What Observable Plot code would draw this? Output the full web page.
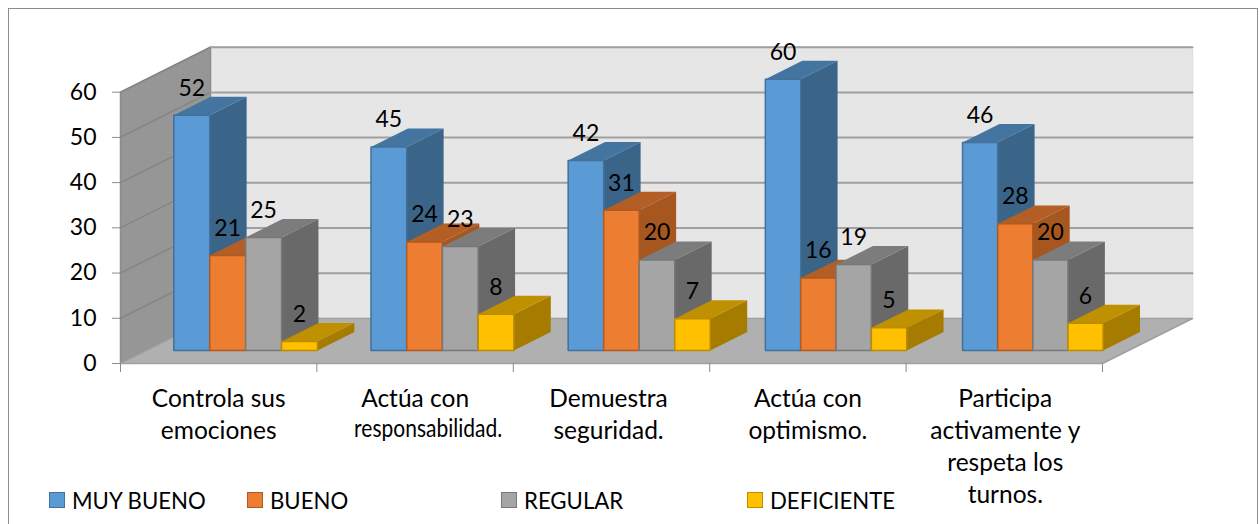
<!DOCTYPE html>
<html><head><meta charset="utf-8">
<script src="https://cdn.jsdelivr.net/npm/d3@7"></script>
<script src="https://cdn.jsdelivr.net/npm/@observablehq/plot@0.6"></script>
<style>
html,body{margin:0;padding:0;background:#fff;overflow:hidden}
#frame{position:absolute;left:8px;top:8px;width:1250px;height:530px;box-sizing:border-box;border:1.5px solid #8c8c8c;pointer-events:none}
#chart{position:absolute;left:0;top:0}
#legend{position:absolute;left:0;top:484px;height:32px;font:22.2px Lato,sans-serif;color:#000}
#legend span.item{position:absolute;top:0;white-space:nowrap;display:flex;align-items:center;height:32px}
#legend i{display:inline-block;box-sizing:border-box;width:16px;height:16px;margin-right:7px;border:1px solid}
</style></head><body>
<div id="chart"></div><div id="frame"></div><div id="legend"></div>
<script>
const categories = ["Controla sus\nemociones","Actúa con","Demuestra\nseguridad.","Actúa con\noptimismo.","Participa\nactivamente y\nrespeta los\nturnos."];
const narrowLine = "responsabilidad.";
const seriesNames = ["MUY BUENO","BUENO","REGULAR","DEFICIENTE"];
const muyBueno = [52,45,42,60,46];
const bueno = [21,24,31,16,28];
const regular = [25,23,20,19,20];
const deficiente = [2,8,7,5,6];
const yTicks = [0,10,20,30,40,50,60];
const front = ["#5b9bd5","#ed7d31","#a5a5a5","#ffc000"];
const edge = ["#41719c","#ae5a21","#787878","#bc8c00"];
const topFace = ["#4475a1","#b25e25","#7c7c7c","#bf9000"];
const sideFace = ["#3a6488","#a5571f","#696969","#a57c00"];
const series = [muyBueno,bueno,regular,deficiente];
const catX = [0.5,1.5,2.485,3.5,4.505];

const DX = 90/196.4, DY = 45/4.52;
const P = (x,v,d)=>({x:x+d*DX,y:v+d*DY});
const polys = [];
const poly = (id,pts,fill,stroke)=>pts.forEach(p=>polys.push({id,...p,fill,stroke}));
poly("back",[P(0,0,1),P(5,0,1),P(5,60,1),P(0,60,1)],"#e6e6e6","#e0e0e0");
poly("wall",[P(0,0,0),P(0,0,1),P(0,60,1),P(0,60,0)],"#969696","#8c8c8c");
poly("floor",[P(0,0,0),P(5,0,0),P(5,0,1),P(0,0,1)],"#b0b0b0","#a0a0a0");

const bars = [];
const D0 = 0.29, D1 = 0.70;
categories.forEach((c,i)=>series.forEach((vals,s)=>{
  const start = 0.2714+0.004*i - D0*DX, end = 1.003 - D0*DX, BW = (end-start)/4;
  const v = vals[i], x0 = i+start+s*BW, x1 = x0+BW, id=`b${i}-${s}`;
  bars.push({x:x0+BW/2+D0*DX,y:v+D0*DY,label:String(v)});
  poly(id+"side",[P(x1,0,D0),P(x1,0,D1),P(x1,v,D1),P(x1,v,D0)],sideFace[s],"#0000");
  poly(id+"top",[P(x0,v,D0),P(x1,v,D0),P(x1,v,D1),P(x0,v,D1)],topFace[s],"#0000");
  poly(id+"front",[P(x0,0,D0),P(x1,0,D0),P(x1,v,D0),P(x0,v,D0)],front[s],edge[s]);
}));
const bgN = 12;
const bg = polys.slice(0,bgN), barPolys = polys.slice(bgN);
const grid = yTicks.filter(v=>v>0).flatMap(v=>[P(0,v,1),P(5,v,1)].map(p=>({...p,v})));
const wallGrid = yTicks.filter(v=>v>0).flatMap(v=>[P(0,v,0),P(0,v,1)].map(p=>({...p,v})));
const catRows = categories.map((c,i)=>({x:catX[i],c}));

const chart = Plot.plot({
  width:1259,height:524,marginLeft:120,marginRight:157,marginTop:91.7,marginBottom:161,
  x:{domain:[0,5],axis:null},
  y:{domain:[0,60],axis:null},
  style:{fontFamily:"Lato, sans-serif",background:"transparent"},
  marks:[
    Plot.line(bg,{x:"x",y:"y",z:"id",fill:"fill",stroke:"stroke",strokeWidth:1.5,curve:"linear-closed"}),
    Plot.line(wallGrid,{x:"x",y:"y",z:"v",stroke:"#858585",strokeWidth:1.5}),
    Plot.line(grid,{x:"x",y:"y",z:"v",stroke:"#a0a0a0",strokeWidth:2}),
    Plot.line(barPolys,{x:"x",y:"y",z:"id",fill:"fill",stroke:"stroke",strokeWidth:1.5,curve:"linear-closed"}),
    Plot.text(bars,{x:"x",y:"y",text:"label",dy:-27,fontSize:23,fill:"#000"}),
    Plot.axisY(yTicks,{tickSize:8,tickPadding:16,stroke:"#8c8c8c",fill:"#000",fontSize:23,label:null}),
    Plot.axisX([0,1,2,3,4,5],{tickSize:9,stroke:"#8c8c8c",text:()=>"",label:null}),
    Plot.text(catRows,{x:"x",y:0,text:"c",dy:21,lineAnchor:"top",lineHeight:1.3,fontSize:24.5,fill:"#000"}),
    Plot.text([narrowLine],{x:catX[1],y:0,text:d=>d,dx:13,dy:56,lineAnchor:"top",fontSize:24.5,fill:"#000",
      render(index,scales,values,dims,ctx,next){
        const g = next(index,scales,values,dims,ctx);
        d3.select(g).selectAll("text").attr("textLength",148).attr("lengthAdjust","spacingAndGlyphs");
        return g;
      }})
  ]
});
document.getElementById("chart").append(chart);
const legendX = [49,247,501,747];
const lg = document.getElementById("legend");
seriesNames.forEach((n,s)=>{
  const e=document.createElement("span");e.className="item";e.style.left=legendX[s]+"px";
  e.innerHTML=`<i style="background:${front[s]};border-color:${edge[s]}"></i>${n}`;
  lg.append(e);
});
</script></body></html>
